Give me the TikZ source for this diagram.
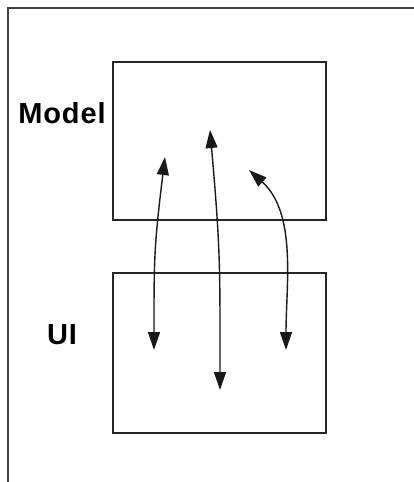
\documentclass[tikz,border=0pt]{standalone}
\usepackage{fontspec}
\setmainfont{Liberation Sans}
\usetikzlibrary{arrows.meta}

\begin{document}
\begin{tikzpicture}[
    x=1pt, y=1pt,
    box/.style={
        draw=black!85,
        line width=1.4pt,
        minimum width=213pt,
        minimum height=158pt,
        inner sep=0pt
    },
    tag/.style={font=\fontsize{29}{33}\selectfont\bfseries\addfontfeature{LetterSpace=3}, inner sep=0pt},
    link/.style={{Triangle[length=18pt,width=12pt]}-{Triangle[length=18pt,width=12pt]}, line width=1.4pt, black!90},
    frame/.style={draw=black!75, line width=1.6pt}
]
    \useasboundingbox (0,0) rectangle (414,-482);
    \draw[frame] (8,-482) -- (8,-8) -- (414,-8);

    \node[box] (model) at (219.5,-141) {};
    \node[box, minimum height=160pt] (ui) at (219.5,-353) {};

    \node[tag] (model-label) at (62,-113) {Model};
    \node[tag] (ui-label) at (62,-335) {UI};

    % arrow ends
    \coordinate (model-a) at (165,-157);
    \coordinate (model-b) at (210,-130);
    \coordinate (model-c) at (249,-170);
    \coordinate (ui-a) at (154,-350);
    \coordinate (ui-b) at (220,-390);
    \coordinate (ui-c) at (286,-350);

    \draw[link] (model-a) to[out=-97, in=90, looseness=1.2] (ui-a);
    \draw[link] (model-b) to[out=-85, in=90, looseness=1.2] (ui-b);
    \draw[link] (model-c) to[out=-42, in=90, looseness=0.9] (ui-c);
\end{tikzpicture}
\end{document}
